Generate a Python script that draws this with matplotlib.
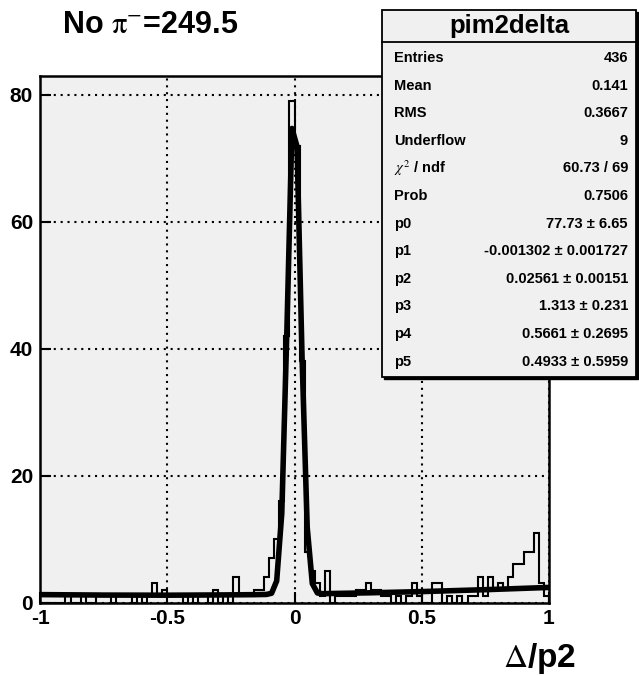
import matplotlib
matplotlib.use("Agg")
import matplotlib.pyplot as plt
import numpy as np
from matplotlib.patches import Rectangle
from matplotlib.lines import Line2D

plt.rcParams['font.family'] = ['Liberation Sans', 'DejaVu Sans']
plt.rcParams['mathtext.fontset'] = 'stix'

# histogram pim2delta: 100 bins on [-1, 1]
x_min, x_max, n_bins = -1.0, 1.0, 100
counts = [0, 0, 0, 0, 0, 1, 0, 0, 1, 0,
          0, 1, 1, 1, 0, 1, 1, 1, 0, 1,
          0, 1, 3, 1, 2, 1, 1, 1, 0, 1,
          0, 1, 1, 0, 2, 0, 1, 0, 4, 1,
          1, 1, 2, 2, 4, 7, 10, 16, 42, 79,
          72, 38, 8, 5, 3, 1, 5, 0, 1, 1,
          1, 1, 2, 2, 3, 2, 2, 1, 1, 0,
          1, 0, 1, 3, 1, 0, 0, 3, 3, 0,
          1, 0, 1, 0, 1, 1, 4, 1, 4, 2,
          3, 2, 4, 6, 6, 8, 8, 11, 3, 1]

# fit curve (gaus + pol2)
fit_x = [-0.99, -0.75, -0.5, -0.3, -0.15, -0.11, -0.09, -0.07, -0.05, -0.03, -0.01,
         0.01, 0.03, 0.05, 0.07, 0.09, 0.11, 0.3, 0.5, 0.75, 0.99]
fit_y = [1.24, 1.17, 1.15, 1.19, 1.24, 1.27, 1.46, 3.40, 14.03, 42.78, 74.69,
         71.84, 38.16, 11.80, 2.97, 1.50, 1.39, 1.53, 1.72, 2.02, 2.36]

x_ticks = [-1, -0.5, 0, 0.5, 1]
x_ticklabels = ['-1', '-0.5', '0', '0.5', '1']
y_ticks = [0, 20, 40, 60, 80]

stat_names = ['Entries', 'Mean', 'RMS', 'Underflow', r'$\chi^{2}$ / ndf', 'Prob',
              'p0', 'p1', 'p2', 'p3', 'p4', 'p5']
stat_values = ['436', '0.141', '0.3667', '9', '60.73 / 69', '0.7506',
               '77.73 ± 6.65', '-0.001302 ± 0.001727', '0.02561 ± 0.00151',
               '1.313 ± 0.231', '0.5661 ± 0.2695', '0.4933 ± 0.5959']

W, H = 639, 676
fig = plt.figure(figsize=(W / 100, H / 100), dpi=100)
fig.patch.set_facecolor('white')


def fx(px):
    return px / W


def fy(py):
    return 1 - py / H


ax = fig.add_axes([fx(40), fy(602.5), (549 - 40) / W, (602.5 - 76) / H])
ax.set_facecolor('#f0f0f0')

edges = np.linspace(x_min, x_max, n_bins + 1)
ax.stairs(counts, edges, color='black', lw=1.5)
ax.plot(fit_x, fit_y, color='black', lw=4, solid_joinstyle='round')

ax.set_xlim(x_min, x_max)
ax.set_ylim(0, 82.95)
ax.set_xticks(x_ticks)
ax.set_xticklabels(x_ticklabels)
ax.set_yticks(y_ticks)
ax.set_axisbelow(True)
ax.grid(True, color='black', lw=1.5, linestyle=(0, (1, 2.3)))
ax.tick_params(direction='in', length=8, width=1.5, labelsize=15, pad=5,
               top=False, right=False)
for lab in ax.get_xticklabels() + ax.get_yticklabels():
    lab.set_fontweight('bold')
for sp in ax.spines.values():
    sp.set_linewidth(1.8)

fig.text(fx(62), fy(25), r'No $\mathrm{\pi}^{-}$=249.5', fontsize=22, fontweight='bold',
         ha='left', va='center')
fig.text(fx(576), fy(667), r'$\mathrm{\Delta}$/p2', fontsize=24, fontweight='bold',
         ha='right', va='baseline')

# stats box with shadow
bx0, by0, bx1, by1 = 382, 10, 636, 377
fig.patches.append(Rectangle((fx(bx0 + 2), fy(by1 + 2)), (bx1 - bx0) / W, (by1 - by0) / H,
                             transform=fig.transFigure, facecolor='black',
                             edgecolor='black', lw=1, zorder=5))
fig.patches.append(Rectangle((fx(bx0), fy(by1)), (bx1 - bx0) / W, (by1 - by0) / H,
                             transform=fig.transFigure, facecolor='#f0f0f0',
                             edgecolor='black', lw=1.3, zorder=6))
fig.lines.append(Line2D([fx(bx0), fx(bx1)], [fy(42), fy(42)], transform=fig.transFigure,
                        color='black', lw=1.3, zorder=7))
fig.text(fx((bx0 + bx1) / 2), fy(26), 'pim2delta', fontsize=18.5, fontweight='bold',
         ha='center', va='center', zorder=8)
for i, (name, val) in enumerate(zip(stat_names, stat_values)):
    yy = fy(58 + i * 27.6)
    fig.text(fx(394), yy, name, fontsize=10.5, fontweight='bold', ha='left',
             va='center', zorder=8)
    fig.text(fx(628), yy, val, fontsize=10.5, fontweight='bold', ha='right',
             va='center', zorder=8)

fig.savefig('out.png', dpi=100)
